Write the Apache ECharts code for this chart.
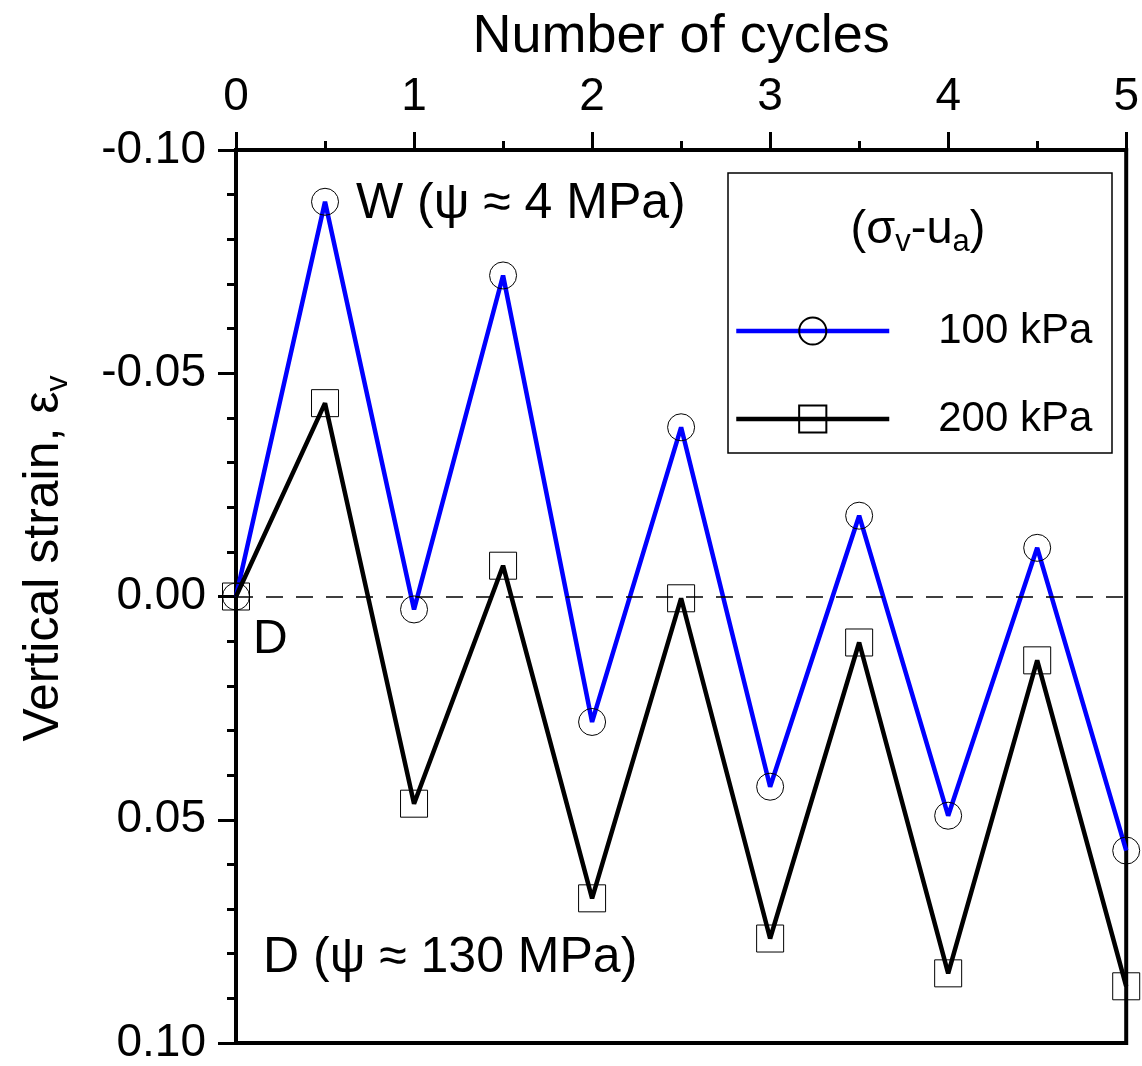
<!DOCTYPE html>
<html>
<head>
<meta charset="utf-8">
<script src="https://cdn.jsdelivr.net/npm/echarts@6/dist/echarts.min.js"></script>
<style>html,body{margin:0;padding:0;background:#fff}#c{width:1142px;height:1066px}</style>
</head>
<body>
<div id="c"></div>
<script>
// ---- data ----
const cycles = [0, 0.5, 1, 1.5, 2, 2.5, 3, 3.5, 4, 4.5, 5];
const strain100 = [0, -0.0884, 0.0029, -0.0719, 0.0281, -0.0379, 0.0426, -0.0181, 0.0491, -0.0109, 0.0569];
const strain200 = [0, -0.0433, 0.0464, -0.0069, 0.0676, 0.0004, 0.0766, 0.0103, 0.0844, 0.0143, 0.0873];
const seriesNames = ['100 kPa', '200 kPa'];
const xTicks = [0, 1, 2, 3, 4, 5];
const yTicks = [-0.10, -0.05, 0.00, 0.05, 0.10];

const FONT = 'Liberation Sans, Arial, sans-serif';
const chart = echarts.init(document.getElementById('c'), null, {renderer: 'canvas'});

function pairs(xs, ys) { return xs.map((x, i) => [x, ys[i]]); }

const option = {
  animation: false,
  backgroundColor: '#fff',
  textStyle: {fontFamily: FONT, color: '#000'},
  grid: {left: 236, right: 12, top: 150, bottom: 20, show: true, borderColor: '#000', borderWidth: 4, containLabel: false},
  xAxis: {
    type: 'value', position: 'top',
    min: xTicks[0], max: xTicks[xTicks.length - 1], interval: 1,
    name: 'Number of cycles', nameLocation: 'middle', nameGap: 86,
    nameTextStyle: {fontSize: 54, color: '#000', fontFamily: FONT},
    axisLine: {show: true, onZero: false, lineStyle: {color: '#000', width: 4}},
    axisTick: {show: true, inside: false, length: 18, lineStyle: {color: '#000', width: 3}},
    minorTick: {show: true, splitNumber: 2, length: 9, lineStyle: {color: '#000', width: 3}},
    axisLabel: {fontSize: 46, color: '#000', margin: 30, fontFamily: FONT,
      formatter: v => String(xTicks.find(t => Math.abs(t - v) < 1e-9) ?? v)},
    splitLine: {show: false}
  },
  yAxis: {
    type: 'value', inverse: true,
    min: yTicks[0], max: yTicks[yTicks.length - 1], interval: 0.05,
    name: '{m|Vertical strain, ε}{s|v}', nameLocation: 'middle', nameGap: 162, nameRotate: 90,
    nameTextStyle: {fontSize: 50, color: '#000', fontFamily: FONT, padding: [0, 0, 0, 76],
      rich: {m: {fontSize: 50, fontFamily: FONT, color: '#000', lineHeight: 60},
             s: {fontSize: 32, fontFamily: FONT, color: '#000', lineHeight: 60, verticalAlign: 'bottom', padding: [14, 0, 0, 0]}}},
    axisLine: {show: true, onZero: false, lineStyle: {color: '#000', width: 4}},
    axisTick: {show: true, inside: false, length: 18, lineStyle: {color: '#000', width: 3}},
    minorTick: {show: true, splitNumber: 5, length: 9, lineStyle: {color: '#000', width: 3}},
    axisLabel: {fontSize: 46, color: '#000', margin: 30, fontFamily: FONT,
      formatter: v => { const t = yTicks.find(t => Math.abs(t - v) < 1e-9); const r = (t === undefined ? v : t); return Math.abs(r) < 1e-9 ? '0.00' : r.toFixed(2); }},
    splitLine: {show: false}
  },
  legend: {
    orient: 'vertical', left: 729, top: 305,
    itemWidth: 153, itemHeight: 34, itemGap: 46,
    data: seriesNames,
    lineStyle: {width: 4.5},
    textStyle: {fontSize: 42, color: '#000', fontFamily: FONT, padding: [0, 0, 0, 44]}
  },
  series: [
    {
      name: seriesNames[0], type: 'line', data: pairs(cycles, strain100),
      symbol: 'circle', symbolSize: 27, showAllSymbol: true, clip: false, z: 3,
      lineStyle: {color: '#0000ff', width: 4.5},
      itemStyle: {color: 'rgba(255,255,255,0)', borderColor: '#000', borderWidth: 1},
      markLine: {
        silent: true, symbol: 'none', label: {show: false},
        lineStyle: {color: '#000', width: 1.5, type: [17, 13]},
        data: [{yAxis: 0}]
      }
    },
    {
      name: seriesNames[1], type: 'line', data: pairs(cycles, strain200),
      symbol: 'rect', symbolSize: 27, showAllSymbol: true, clip: false, z: 4,
      lineStyle: {color: '#000', width: 4.5},
      itemStyle: {color: 'rgba(255,255,255,0)', borderColor: '#000', borderWidth: 1}
    }
  ],
  graphic: [
    {type: 'rect', shape: {x: 728, y: 173, width: 384, height: 280}, style: {fill: 'none', stroke: '#000', lineWidth: 1.5}, z: 10},
    {type: 'text', x: 918, y: 230, style: {text: '{m|(σ}{s|v}{m|-u}{s|a}{m|)}', align: 'center', verticalAlign: 'middle',
      rich: {m: {fontSize: 47, fontFamily: FONT, fill: '#000', lineHeight: 56},
             s: {fontSize: 31, fontFamily: FONT, fill: '#000', lineHeight: 56, verticalAlign: 'bottom', padding: [16, 0, 0, 0]}}}, z: 10},
    {type: 'text', x: 356, y: 204, style: {text: 'W (ψ ≈ 4 MPa)', font: '50px ' + FONT, fill: '#000', verticalAlign: 'middle'}, z: 10},
    {type: 'text', x: 253, y: 640, style: {text: 'D', font: '48px ' + FONT, fill: '#000', verticalAlign: 'middle'}, z: 10},
    {type: 'text', x: 263, y: 958, style: {text: 'D (ψ ≈ 130 MPa)', font: '50px ' + FONT, fill: '#000', verticalAlign: 'middle'}, z: 10}
  ]
};
chart.setOption(option);
</script>
</body>
</html>
